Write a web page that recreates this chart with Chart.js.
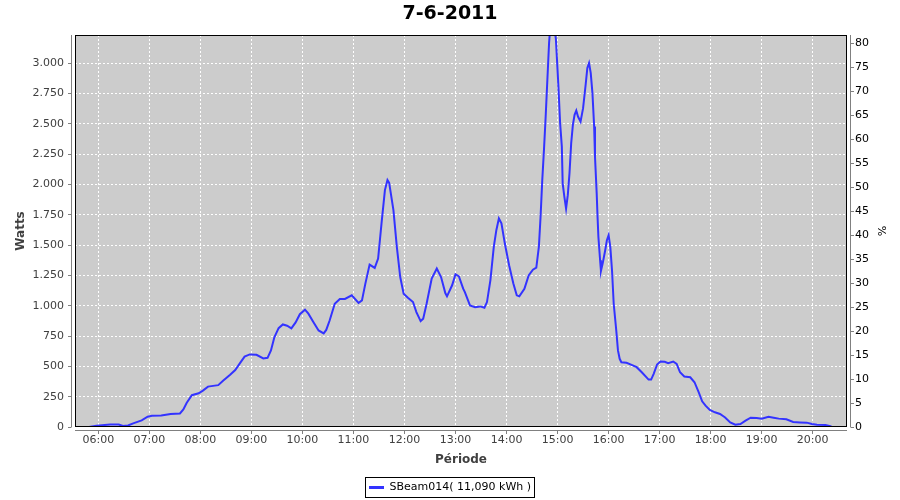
<!DOCTYPE html>
<html>
<head>
<meta charset="utf-8">
<script src="https://cdn.jsdelivr.net/npm/chart.js@4"></script>
<style>
html,body{margin:0;padding:0;background:#ffffff;}
#wrap{width:900px;height:500px;}
</style>
</head>
<body>
<div id="wrap"><canvas id="c" width="900" height="500"></canvas></div>
<script>
const chartTitle = '7-6-2011';
const seriesName = 'SBeam014( 11,090 kWh )';
const xTitle = 'Période';
const yTitle = 'Watts';
const y2Title = '%';

const times = [
 '05:49','05:58','06:14','06:24','06:29','06:35','06:41','06:51','06:58','07:03',
 '07:14','07:25','07:36','07:40','07:44','07:50','07:58','08:03','08:09','08:17',
 '08:21','08:27','08:35','08:41','08:47','08:52','08:58','09:06','09:14','09:19',
 '09:23','09:27','09:32','09:37','09:42','09:47','09:52','09:57','10:03','10:07',
 '10:13','10:19','10:25','10:28','10:32','10:38','10:44','10:50','10:58','11:06',
 '11:10','11:14','11:19','11:25','11:29','11:33','11:37','11:40','11:42','11:47',
 '11:51','11:55','11:59','12:04','12:10','12:14','12:19','12:22','12:26','12:32',
 '12:38','12:43','12:48','12:50','12:56','13:00','13:04','13:09','13:11','13:17',
 '13:23','13:29','13:34','13:37','13:41','13:45','13:48','13:51','13:54','13:58',
 '14:03','14:08','14:12','14:15','14:21','14:26','14:31','14:35','14:38','14:40',
 '14:42','14:44','14:46','14:48','14:50','14:53','14:58','15:01','15:03','15:05',
 '15:06','15:08','15:10','15:12','15:14','15:16','15:18','15:20','15:22','15:24',
 '15:27','15:30','15:33','15:35','15:37','15:39','15:41','15:43','15:44','15:46',
 '15:47','15:48','15:50','15:51','15:53','15:56','15:58','16:00','16:02','16:04',
 '16:06','16:09','16:11','16:13','16:15','16:21','16:27','16:33','16:39','16:47',
 '16:50','16:53','16:57','17:01','17:06','17:10','17:16','17:20','17:24','17:29',
 '17:36','17:41','17:46','17:50','17:54','17:59','18:05','18:11','18:17','18:23',
 '18:29','18:35','18:41','18:47','18:54','19:00','19:08','19:14','19:20','19:29',
 '19:37','19:45','19:53','19:59','20:05','20:15','20:22'
];

const watts = [
 0,10,20,20,8,12,30,55,85,93,
 95,108,112,145,200,262,278,300,333,341,
 345,383,430,470,530,580,598,595,565,570,
 631,740,815,845,835,813,862,930,967,934,
 864,796,771,800,878,1016,1055,1055,1085,1022,
 1044,1182,1339,1311,1388,1678,1953,2035,2013,1788,
 1484,1236,1099,1066,1030,947,873,893,1016,1223,
 1306,1236,1104,1077,1168,1259,1242,1140,1112,1002,
 988,994,983,1030,1209,1484,1622,1719,1678,1512,
 1333,1182,1085,1077,1140,1250,1297,1314,1484,1733,
 2035,2284,2559,2862,3165,3450,3200,2806,2504,2311,
 2008,1897,1801,1911,2091,2339,2490,2573,2608,2559,
 2517,2628,2821,2959,3000,2917,2752,2477,2228,1925,
 1733,1567,1374,1286,1347,1457,1540,1581,1484,1292,
 1016,796,631,562,534,529,512,493,451,391,
 391,438,515,540,537,526,540,520,451,416,
 410,369,286,212,176,140,121,107,79,38,
 19,25,52,77,74,69,85,77,69,63,
 41,38,36,25,19,17,5
];

const hourTickLabels = ['06:00','07:00','08:00','09:00','10:00','11:00','12:00','13:00','14:00','15:00','16:00','17:00','18:00','19:00','20:00'];
const wattTicks = [0,250,500,750,1000,1250,1500,1750,2000,2250,2500,2750,3000];
const pctTicks = [0,5,10,15,20,25,30,35,40,45,50,55,60,65,70,75,80];

const xMinMinutes = 332.6, xMaxMinutes = 1240.3;
const wattMax = 3231, pctMax = 81.67;

const toMin = s => parseInt(s.slice(0,2),10)*60 + parseInt(s.slice(3),10);
const hourTickValues = hourTickLabels.map(toMin);
const fmtThousands = v => String(v).replace(/\B(?=(\d{3})+(?!\d))/g, '.');
const points = times.map((t,i) => ({x: toMin(t), y: watts[i]}));

Chart.defaults.font.family = 'DejaVu Sans';

const framePlugin = {
  id: 'frame',
  beforeDraw(chart) {
    const {ctx, chartArea: a} = chart;
    ctx.save();
    ctx.fillStyle = '#cccccc';
    ctx.fillRect(a.left, a.top, a.right - a.left, a.bottom - a.top);
    ctx.restore();
  },
  afterDatasetsDraw(chart) {
    const {ctx, chartArea: a} = chart;
    ctx.save();
    ctx.strokeStyle = '#000000';
    ctx.lineWidth = 1;
    ctx.strokeRect(a.left + 0.5, a.top + 0.5, a.right - a.left - 1, a.bottom - a.top - 1);
    ctx.restore();
  },
  afterDraw(chart) {
    const {ctx, chartArea: a, scales} = chart;
    ctx.save();
    ctx.strokeStyle = '#808080';
    ctx.lineWidth = 1;
    ctx.beginPath();
    const lx = a.left - 3.5, by = a.bottom + 3.5, rx = a.right + 3.5;
    ctx.moveTo(lx, a.top); ctx.lineTo(lx, a.bottom);
    scales.y.ticks.forEach(t => {
      const y = Math.round(scales.y.getPixelForValue(t.value) - 0.5) + 0.5;
      ctx.moveTo(lx - 3.5, y); ctx.lineTo(lx, y);
    });
    ctx.moveTo(rx, a.top); ctx.lineTo(rx, a.bottom);
    scales.y1.ticks.forEach(t => {
      const y = Math.round(scales.y1.getPixelForValue(t.value) - 0.5) + 0.5;
      ctx.moveTo(rx, y); ctx.lineTo(rx + 3.5, y);
    });
    ctx.moveTo(a.left, by); ctx.lineTo(a.right, by);
    scales.x.ticks.forEach(t => {
      const x = Math.round(scales.x.getPixelForValue(t.value) - 0.5) + 0.5;
      ctx.moveTo(x, by); ctx.lineTo(x, by + 3.5);
    });
    ctx.stroke();
    const lg = chart.legend;
    if (lg && lg.legendHitBoxes && lg.legendHitBoxes[0]) {
      const hb = lg.legendHitBoxes[0];
      const x0 = Math.round(hb.left) - 3.5, x1 = Math.round(hb.left + hb.width) + 3.5;
      const y0 = Math.round(hb.top) - 4.5, y1 = Math.round(hb.top + hb.height) + 4.5;
      ctx.strokeStyle = '#000000';
      ctx.strokeRect(x0, y0, x1 - x0, y1 - y0);
    }
    ctx.restore();
  }
};

new Chart(document.getElementById('c'), {
  type: 'line',
  data: {
    datasets: [{
      label: seriesName,
      data: points,
      borderColor: '#3333ff',
      backgroundColor: '#3333ff',
      borderWidth: 2,
      pointRadius: 0,
      pointHoverRadius: 0,
      tension: 0,
      fill: false,
      xAxisID: 'x',
      yAxisID: 'y'
    }]
  },
  options: {
    responsive: false,
    animation: false,
    devicePixelRatio: 1,
    layout: { padding: { top: 0, left: 0, right: 0, bottom: -3 } },
    plugins: {
      title: {
        display: true,
        text: chartTitle,
        color: '#000000',
        font: { size: 19, weight: 'bold' },
        padding: { top: 3, bottom: 9.2 }
      },
      legend: {
        display: true,
        position: 'bottom',
        labels: {
          usePointStyle: true,
          pointStyle: 'line',
          pointStyleWidth: 15,
          padding: 6,
          color: '#000000',
          font: { size: 11 },
          generateLabels(chart) {
            const items = Chart.defaults.plugins.legend.labels.generateLabels(chart);
            items.forEach(it => { it.lineWidth = 3; it.strokeStyle = '#3333ff'; });
            return items;
          }
        }
      },
      tooltip: { enabled: false }
    },
    scales: {
      x: {
        type: 'linear',
        position: 'bottom',
        min: xMinMinutes,
        max: xMaxMinutes,
        afterBuildTicks: s => { s.ticks = hourTickValues.map(v => ({value: v})); },
        afterFit: s => { s.height = 49; },
        ticks: {
          autoSkip: false,
          maxRotation: 0,
          padding: 7,
          color: '#404040',
          font: { size: 11 },
          callback: v => { const i = hourTickValues.indexOf(v); return i >= 0 ? hourTickLabels[i] : ''; }
        },
        grid: { color: '#ffffff', lineWidth: 1, drawTicks: false },
        border: { display: false, dash: [2, 2] },
        title: { display: true, text: xTitle, color: '#404040', font: { size: 12, weight: 'bold' }, padding: { top: 0, bottom: 9.3 } }
      },
      y: {
        type: 'linear',
        position: 'left',
        min: 0,
        max: wattMax,
        afterBuildTicks: s => { s.ticks = wattTicks.map(v => ({value: v})); },
        afterFit: s => { s.width = 75; },
        ticks: {
          padding: 11,
          color: '#404040',
          font: { size: 11 },
          callback: v => fmtThousands(v)
        },
        grid: { color: '#ffffff', lineWidth: 1, drawTicks: false },
        border: { display: false, dash: [2, 2] },
        title: { display: true, text: yTitle, color: '#404040', font: { size: 12, weight: 'bold' }, padding: { top: 13.3, bottom: 0 } }
      },
      y1: {
        type: 'linear',
        position: 'right',
        min: 0,
        max: pctMax,
        afterBuildTicks: s => { s.ticks = pctTicks.map(v => ({value: v})); },
        afterFit: s => { s.width = 53; },
        ticks: {
          padding: 8,
          color: '#000000',
          font: { size: 11 },
          callback: v => String(v)
        },
        grid: { display: false, drawTicks: false },
        border: { display: false },
        title: { display: true, text: y2Title, color: '#000000', font: { size: 11 }, padding: { top: 12.3, bottom: 0 } }
      }
    }
  },
  plugins: [framePlugin]
});
</script>
</body>
</html>
